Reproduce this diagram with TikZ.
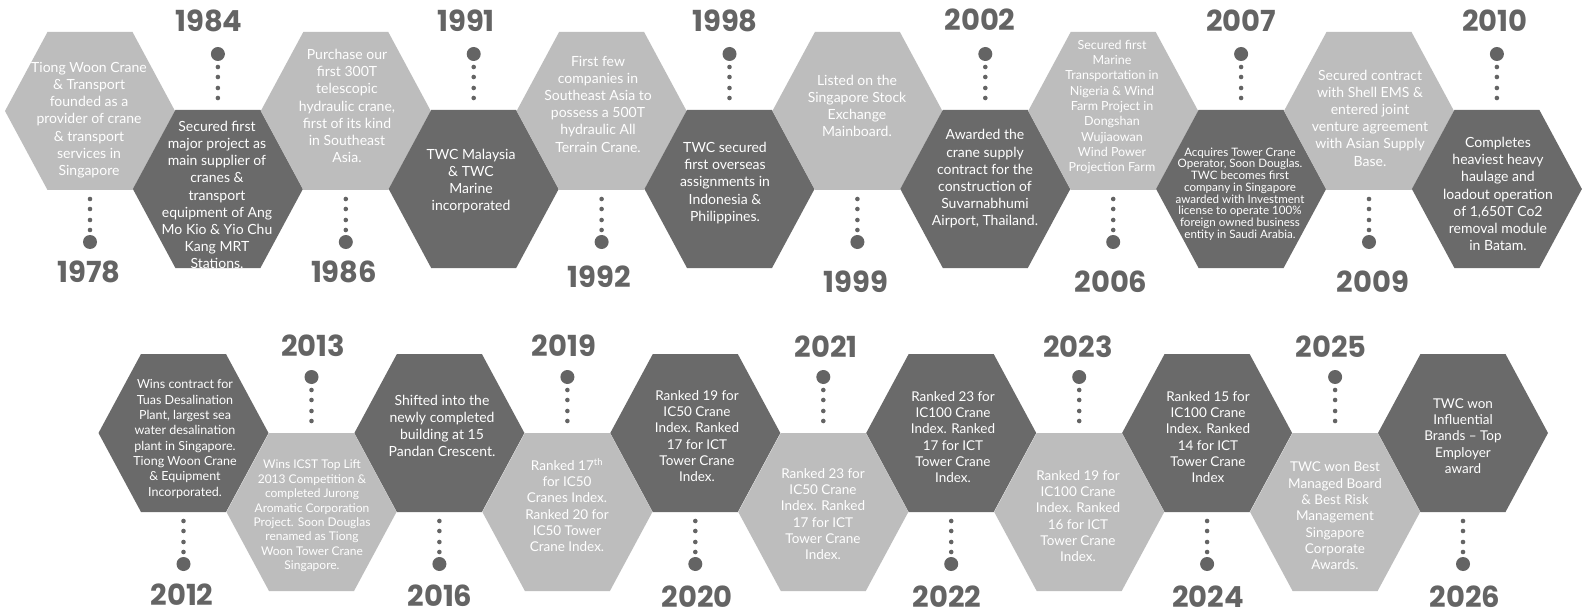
\documentclass[tikz,border=0pt]{standalone}
\usepackage{fontspec}
\setmainfont{Lato}
\newfontfamily\yearfont{Poppins}
\definecolor{hexlight}{HTML}{BDBDBD}
\definecolor{hexdark}{HTML}{6A6A6A}
\definecolor{yearcol}{HTML}{646464}
\tikzset{
  txtN/.style={text=white,align=center,inner sep=0pt,font=\fontsize{14}{17.2}\selectfont},
  txtB/.style={text=white,align=center,inner sep=0pt,font=\fontsize{13.5}{16.3}\selectfont},
  txtS/.style={text=white,align=center,inner sep=0pt,font=\fontsize{12.5}{15.3}\selectfont},
  txtM/.style={text=white,align=center,inner sep=0pt,font=\fontsize{12}{14.4}\selectfont},
  txtXS/.style={text=white,align=center,inner sep=0pt,font=\fontsize{11.6}{11.75}\selectfont},
  yearlbl/.style={text=yearcol,inner sep=0pt,text height=20.5pt,text depth=0pt,
    font=\yearfont\bfseries\fontsize{29}{30}\selectfont},
  bigdot/.style={fill=yearcol},
}
\newcommand\hexcell[7]{%
  \fill[#4] (#2-85,#3) -- (#2-42.5,#3-79) -- (#2+42.5,#3-79) -- (#2+85,#3)
    -- (#2+42.5,#3+79) -- (#2-42.5,#3+79) -- cycle;
  \begin{scope}
    \clip (#2-85,#3) -- (#2-42.5,#3-79) -- (#2+42.5,#3-79) -- (#2+85,#3)
      -- (#2+42.5,#3+79) -- (#2-42.5,#3+79) -- cycle;
    \node[#6] (#1) at (#5) {#7};
  \end{scope}}
% year above a hexagon: name, x, hex top, label pos, year
\newcommand\yearabove[5]{%
  \fill[bigdot] (#2,#3-56) circle[radius=7pt];
  \foreach \d in {43,33,22,12} \fill[bigdot] (#2,#3-\d) circle[radius=2.3pt];
  \node[yearlbl] (#1) at (#4) {#5};}
% year below a hexagon: name, x, hex bottom, label pos, year
\newcommand\yearbelow[5]{%
  \foreach \d in {9,19,30,40} \fill[bigdot] (#2,#3+\d) circle[radius=2.3pt];
  \fill[bigdot] (#2,#3+52) circle[radius=7pt];
  \node[yearlbl] (#1) at (#4) {#5};}
\begin{document}
\begin{tikzpicture}[x=1pt,y=-1pt]
\fill[white] (0,0) rectangle (1583,615);
\useasboundingbox (0,0) rectangle (1583,615);
% ---------------- top row ----------------
\hexcell{h1978}{90}{111}{hexlight}{89,120}{txtN}{Tiong Woon Crane\\\& Transport\\founded as a\\provider of crane\\\& transport\\services in\\Singapore}
\hexcell{h1984}{217.9}{189}{hexdark}{217,195}{txtN}{Secured first\\major project as\\main supplier of\\cranes \&\\transport\\equipment of Ang\\Mo Kio \& Yio Chu\\Kang MRT\\Stations.}
\hexcell{h1986}{345.8}{111}{hexlight}{347,106}{txtN}{Purchase our\\first 300T\\telescopic\\hydraulic crane,\\first of its kind\\in Southeast\\Asia.}
\hexcell{h1991}{473.7}{189}{hexdark}{471,181}{txtN}{TWC Malaysia\\\& TWC\\Marine\\incorporated}
\hexcell{h1992}{601.6}{111}{hexlight}{598,104}{txtN}{First few\\companies in\\Southeast Asia to\\possess a 500T\\hydraulic All\\Terrain Crane.}
\hexcell{h1998}{729.5}{189}{hexdark}{725,183}{txtN}{TWC secured\\first overseas\\assignments in\\Indonesia \&\\Philippines.}
\hexcell{h1999}{857.4}{111}{hexlight}{857,106}{txtN}{Listed on the\\Singapore Stock\\Exchange\\Mainboard.}
\hexcell{h2002}{985.3}{189}{hexdark}{985,179}{txtN}{Awarded the\\crane supply\\contract for the\\construction of\\Suvarnabhumi\\Airport, Thailand.}
\hexcell{h2006}{1113.2}{111}{hexlight}{1112,107}{txtS}{Secured first\\Marine\\Transportation in\\Nigeria \& Wind\\Farm Project in\\Dongshan\\Wujiaowan\\Wind Power\\Projection Farm}
\hexcell{h2007}{1241.1}{189}{hexdark}{1240,194}{txtXS}{Acquires Tower Crane\\Operator, Soon Douglas.\\TWC becomes first\\company in Singapore\\awarded with Investment\\license to operate 100\%\\foreign owned business\\entity in Saudi Arabia.}
\hexcell{h2009}{1369}{111}{hexlight}{1370,118}{txtN}{Secured contract\\with Shell EMS \&\\entered joint\\venture agreement\\with Asian Supply\\Base.}
\hexcell{h2010}{1496.9}{189}{hexdark}{1498,194}{txtN}{Completes\\heaviest heavy\\haulage and\\loadout operation\\of 1,650T Co2\\removal module\\in Batam.}
\yearbelow{y1978}{90}{190}{89,272}{1978}
\yearabove{y1984}{217.9}{110}{209,21}{1984}
\yearbelow{y1986}{345.8}{190}{344,272}{1986}
\yearabove{y1991}{473.7}{110}{466,21}{1991}
\yearbelow{y1992}{601.6}{190}{599,277}{1992}
\yearabove{y1998}{729.5}{110}{725,21}{1998}
\yearbelow{y1999}{857.4}{190}{856,282}{1999}
\yearabove{y2002}{985.3}{110}{980,20}{2002}
\yearbelow{y2006}{1113.2}{190}{1111,282}{2006}
\yearabove{y2007}{1241.1}{110}{1241,21}{2007}
\yearbelow{y2009}{1369}{190}{1373,282}{2009}
\yearabove{y2010}{1496.9}{110}{1495,21}{2010}
% ---------------- bottom row ----------------
\hexcell{h2012}{183.5}{433}{hexdark}{185,439}{txtS}{Wins contract for\\Tuas Desalination\\Plant, largest sea\\water desalination\\plant in Singapore.\\Tiong Woon Crane\\\& Equipment\\Incorporated.}
\hexcell{h2013}{311.5}{512}{hexlight}{312,516}{txtM}{Wins ICST Top Lift\\2013 Competition \&\\completed Jurong\\Aromatic Corporation\\Project. Soon Douglas\\renamed as Tiong\\Woon Tower Crane\\Singapore.}
\hexcell{h2016}{439.4}{433}{hexdark}{442,426}{txtN}{Shifted into the\\newly completed\\building at 15\\Pandan Crescent.}
\hexcell{h2019}{567.4}{512}{hexlight}{567,505}{txtB}{Ranked 17\textsuperscript{th}\\for IC50\\Cranes Index.\\Ranked 20 for\\IC50 Tower\\Crane Index.}
\hexcell{h2020}{695.3}{433}{hexdark}{697,436}{txtB}{Ranked 19 for\\IC50 Crane\\Index. Ranked\\17 for ICT\\Tower Crane\\Index.}
\hexcell{h2021}{823.3}{512}{hexlight}{823,514}{txtB}{Ranked 23 for\\IC50 Crane\\Index. Ranked\\17 for ICT\\Tower Crane\\Index.}
\hexcell{h2022}{951.2}{433}{hexdark}{953,437}{txtB}{Ranked 23 for\\IC100 Crane\\Index. Ranked\\17 for ICT\\Tower Crane\\Index.}
\hexcell{h2023}{1079.2}{512}{hexlight}{1078,516}{txtB}{Ranked 19 for\\IC100 Crane\\Index. Ranked\\16 for ICT\\Tower Crane\\Index.}
\hexcell{h2024}{1207.1}{433}{hexdark}{1208,437}{txtB}{Ranked 15 for\\IC100 Crane\\Index. Ranked\\14 for ICT\\Tower Crane\\Index}
\hexcell{h2025}{1335.1}{512}{hexlight}{1335,516}{txtB}{TWC won Best\\Managed Board\\\& Best Risk\\Management\\Singapore\\Corporate\\Awards.}
\hexcell{h2026}{1463}{433}{hexdark}{1463,436}{txtB}{TWC won\\Influential\\Brands -- Top\\Employer\\award}
\yearbelow{y2012}{183.5}{512}{182,595}{2012}
\yearabove{y2013}{311.5}{433}{313,346}{2013}
\yearbelow{y2016}{439.4}{512}{440,596}{2016}
\yearabove{y2019}{567.4}{433}{564,346}{2019}
\yearbelow{y2020}{695.3}{512}{697,597}{2020}
\yearabove{y2021}{823.3}{433}{826,347}{2021}
\yearbelow{y2022}{951.2}{512}{947,597}{2022}
\yearabove{y2023}{1079.2}{433}{1078,347}{2023}
\yearbelow{y2024}{1207.1}{512}{1208,597}{2024}
\yearabove{y2025}{1335.1}{433}{1331,347}{2025}
\yearbelow{y2026}{1463}{512}{1465,597}{2026}
\end{tikzpicture}
\end{document}
